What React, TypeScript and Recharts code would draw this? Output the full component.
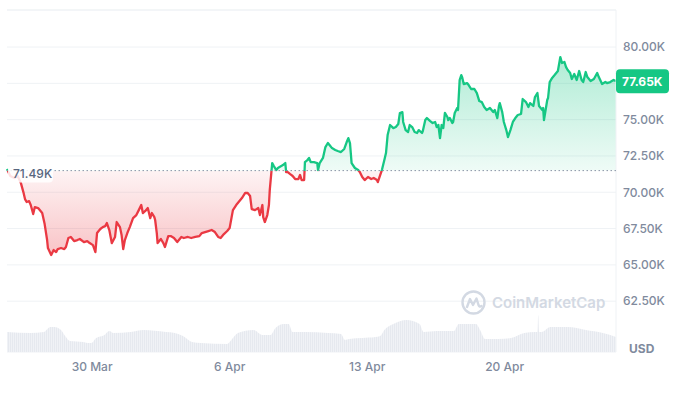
import React from "react";
import {
  ComposedChart,
  Area,
  XAxis,
  YAxis,
  CartesianGrid,
  ReferenceLine,
} from "recharts";

// hours since 25 Mar 16:00, hourly candles sampled where the line turns
const hours = [
  0, 4, 9, 13, 17, 20, 22, 24, 27, 29,
  32, 34, 38, 43, 46, 49, 50, 54, 57, 60,
  62, 66, 70, 72, 75, 78, 82, 86, 89, 94,
  98, 101, 105, 108, 110, 114, 117, 120, 122, 125,
  128, 132, 134, 138, 140, 142, 144, 147, 150, 154,
  158, 161, 164, 166, 169, 171, 172, 175, 177, 180,
  181, 183, 184, 188, 191, 193, 197, 200, 204, 208,
  213, 216, 221, 225, 230, 235, 238, 242, 246, 250,
  254, 258, 261, 265, 269, 272, 276, 280, 283, 287,
  291, 294, 297, 299, 303, 307, 309, 312, 313, 315,
  318, 320, 321, 323, 324, 326, 329, 331, 335, 337,
  340, 341, 343, 346, 349, 352, 356, 358, 360, 363,
  364, 367, 369, 371, 375, 379, 380, 382, 386, 389,
  392, 394, 397, 401, 404, 408, 412, 415, 417, 419,
  421, 425, 429, 431, 434, 437, 441, 445, 448, 452,
  453, 456, 458, 461, 463, 465, 468, 472, 475, 478,
  480, 483, 484, 487, 490, 492, 495, 498, 501, 503,
  507, 508, 511, 513, 517, 520, 523, 525, 527, 529,
  531, 533, 535, 538, 539, 541, 544, 545, 547, 550,
  551, 553, 555, 556, 558, 562, 564, 567, 571, 574,
  577, 580, 583, 586, 590, 594, 596, 599, 601, 602,
  605, 607, 610, 612, 615, 618, 621, 624, 628, 630,
  634, 637, 639, 643, 645, 648, 650, 654, 655, 656,
  660, 661, 663, 666, 669, 673, 676, 678, 681, 683,
  685, 688, 690, 693, 696, 699, 702, 704, 707, 709,
  713, 717, 721, 723, 727, 731, 733, 737, 741, 744,
];

const prices = [
  71600, 71120, 70980, 71120, 70630, 70010, 69530, 69330, 69390, 69120,
  68500, 68980, 68910, 68570, 67810, 66710, 66160, 65680, 66020, 65880,
  66090, 66160, 66090, 66230, 66850, 66920, 66640, 66710, 66780, 66570,
  66640, 66500, 66360, 65880, 67190, 67470, 67600, 67670, 67880, 67400,
  66500, 66920, 67950, 67600, 67050, 66090, 66710, 67190, 67600, 68220,
  68430, 68770, 69120, 68570, 68710, 68840, 68910, 68220, 68570, 68290,
  68090, 67190, 66500, 66780, 66500, 66230, 66980, 66980, 66850, 66570,
  66920, 66850, 66920, 66850, 66920, 66980, 67190, 67260, 67330, 67400,
  67260, 66920, 66850, 67120, 67330, 67540, 68770, 69120, 69330, 69600,
  69950, 69950, 69740, 68840, 68770, 68910, 68430, 69120, 68290, 67950,
  68430, 69120, 70150, 71390, 72010, 71800, 71530, 71670, 71800, 71870,
  72010, 71390, 71390, 71250, 71120, 70910, 70910, 71190, 70840, 70840,
  72080, 72220, 72360, 72080, 72080, 72010, 71530, 72010, 72360, 73110,
  73390, 73250, 73040, 72910, 72840, 72770, 72980, 73460, 73730, 73390,
  72010, 71670, 71530, 71390, 71050, 70840, 71050, 70910, 70980, 70840,
  70700, 71190, 71530, 72220, 72700, 73940, 74630, 74420, 74490, 74700,
  75460, 75520, 74840, 74280, 74150, 74630, 74490, 74150, 74080, 74280,
  74080, 74220, 74970, 75110, 74900, 74770, 74840, 74490, 74630, 73730,
  74630, 74420, 75460, 75180, 74970, 75110, 74770, 74840, 75460, 75800,
  75660, 77730, 78070, 77930, 77450, 77520, 77380, 77110, 77110, 76830,
  76280, 76210, 75870, 75660, 75800, 75520, 75660, 75110, 75940, 76140,
  75520, 74840, 74280, 73800, 74280, 74840, 75110, 75320, 75390, 76420,
  76210, 75870, 76140, 75940, 76560, 76830, 75940, 75660, 75800, 74970,
  76350, 76490, 77590, 77870, 78070, 78350, 79310, 78900, 78970, 78620,
  78420, 78210, 77800, 78140, 77730, 78350, 77730, 77590, 78280, 77930,
  77660, 77800, 78210, 77930, 77450, 77590, 77520, 77590, 77730, 77650,
];

// traded volume (B USD per hour, rough)
const volHours = [
  0, 29, 45, 53, 58, 66, 71, 77, 93, 98,
  103, 109, 119, 125, 130, 151, 167, 194, 205, 215,
  226, 237, 269, 274, 282, 301, 312, 322, 328, 338,
  344, 349, 365, 392, 408, 413, 418, 434, 450, 456,
  461, 472, 488, 504, 509, 525, 546, 552, 573, 578,
  584, 600, 616, 632, 645, 648, 649, 650, 653, 664,
  685, 707, 728, 744,
];
const volumes = [
  2.0, 1.9, 2.0, 2.5, 2.5, 2.2, 1.6, 1.1, 1.0, 0.9,
  0.9, 1.4, 1.7, 2.1, 1.9, 2.0, 2.2, 2.0, 1.9, 1.6,
  1.0, 0.9, 0.8, 1.2, 1.9, 2.2, 1.7, 1.7, 2.4, 2.8,
  2.8, 2.0, 2.0, 1.9, 1.8, 1.2, 1.3, 1.4, 1.5, 1.6,
  2.2, 2.8, 3.2, 2.8, 2.0, 2.1, 2.1, 2.8, 2.8, 2.2,
  1.3, 1.3, 1.4, 1.9, 2.0, 2.0, 3.7, 2.0, 2.0, 2.5,
  2.5, 2.2, 1.9, 1.5,
];

const dateTicks = [104, 272, 440, 608];
const dateLabels = ["30 Mar", "6 Apr", "13 Apr", "20 Apr"];
const priceTicks = [62500, 65000, 67500, 70000, 72500, 75000, 77500, 80000];
const openPrice = 71490;
const lastPrice = 77650;

const GREEN = "#16c784";
const RED = "#ea3943";
const GRID = "#eff2f5";
const TICK = "#808a9d";

type Row = { hour: number; price?: number; volume?: number };

const rowMap = new Map<number, Row>();
hours.forEach((h, i) => rowMap.set(h, { hour: h, price: prices[i] }));
volHours.forEach((h, i) => {
  const r = rowMap.get(h) ?? { hour: h };
  r.volume = volumes[i];
  rowMap.set(h, r);
});
const chartData = [...rowMap.values()].sort((a, b) => a.hour - b.hour);

const pMax = Math.max(...prices);
const pMin = Math.min(...prices);
const split = (pMax - openPrice) / (pMax - pMin);

const fmtK = (v: number) => `${(v / 1000).toFixed(2)}K`;

function OpenTag({ viewBox }: any) {
  if (!viewBox) return null;
  const x = viewBox.x + 1;
  const y = viewBox.y;
  return (
    <g>
      <rect x={x} y={y - 9} width={45} height={21} rx={4} fill="#fff" fillOpacity={0.85} />
      <text x={x + 5} y={y + 7} fill="#58667e" fontSize={12} fontWeight={500}>
        {fmtK(openPrice)}
      </text>
    </g>
  );
}

function LastTag({ viewBox }: any) {
  if (!viewBox) return null;
  const x = viewBox.x + viewBox.width;
  const y = viewBox.y;
  return (
    <g>
      <rect x={x} y={y - 12} width={53} height={24} rx={4} fill={GREEN} />
      <text x={x + 6} y={y + 4.5} fill="#fff" fontSize={12} fontWeight={700}>
        {fmtK(lastPrice)}
      </text>
    </g>
  );
}

export default function App() {
  return (
    <div
      style={{
        position: "absolute",
        left: 0,
        top: 0,
        width: 683,
        height: 395,
        background: "#fff",
        fontFamily: "Inter, sans-serif",
      }}
    >
      <ComposedChart
        width={683}
        height={395}
        data={chartData}
        margin={{ top: 10, right: 0, bottom: 13, left: 7 }}
      >
        <defs>
          <linearGradient id="lineStroke" x1="0" y1="0" x2="0" y2="1">
            <stop offset={split} stopColor={GREEN} />
            <stop offset={split} stopColor={RED} />
          </linearGradient>
          <linearGradient id="lineFill" x1="0" y1="0" x2="0" y2="1">
            <stop offset={0} stopColor={GREEN} stopOpacity={0.34} />
            <stop offset={split} stopColor={GREEN} stopOpacity={0.07} />
            <stop offset={split} stopColor={RED} stopOpacity={0.06} />
            <stop offset={1} stopColor={RED} stopOpacity={0.3} />
          </linearGradient>
          <pattern id="volStripes" width={2} height={4} patternUnits="userSpaceOnUse">
            <rect width={2} height={4} fill="#f0f2f6" />
            <rect width={1} height={4} fill="#e6e9ef" />
          </pattern>
        </defs>
        <CartesianGrid yAxisId="price" vertical={false} stroke={GRID} />
        <XAxis
          type="number"
          dataKey="hour"
          domain={[0, 744]}
          ticks={dateTicks}
          tickFormatter={(v: number) => dateLabels[dateTicks.indexOf(v)] ?? ""}
          axisLine={false}
          tickLine={false}
          tickMargin={4}
          height={30}
          tick={{ fill: TICK, fontSize: 12, fontWeight: 500 }}
        />
        <YAxis
          yAxisId="price"
          orientation="right"
          domain={[59000, 82550]}
          ticks={priceTicks}
          tickFormatter={(v: number) => (v === 77500 ? "" : fmtK(v))}
          axisLine={false}
          tickLine={false}
          tickMargin={1}
          width={67}
          tick={{ fill: TICK, fontSize: 12, fontWeight: 500 }}
          allowDataOverflow
        />
        <YAxis yAxisId="vol" hide domain={[0, 34.2]} />
        <ReferenceLine yAxisId="price" y={82550} stroke={GRID} />
        <ReferenceLine yAxisId="price" x={744} stroke={GRID} />
        <Area
          yAxisId="vol"
          dataKey="volume"
          type="monotone"
          connectNulls
          stroke="none"
          fill="url(#volStripes)"
          fillOpacity={1}
          dot={false}
          activeDot={false}
          isAnimationActive={false}
        />
        <ReferenceLine
          yAxisId="price"
          y={openPrice}
          stroke="#8a93a6"
          strokeDasharray="1.5 2.5"
        />
        <Area
          yAxisId="price"
          dataKey="price"
          type="linear"
          connectNulls
          baseValue={openPrice}
          stroke="url(#lineStroke)"
          strokeWidth={2.3}
          strokeLinejoin="round"
          fill="url(#lineFill)"
          fillOpacity={1}
          dot={false}
          activeDot={false}
          isAnimationActive={false}
        />
        <ReferenceLine
          yAxisId="price"
          y={openPrice}
          stroke="none"
          label={<OpenTag />}
        />
        <ReferenceLine
          yAxisId="price"
          y={lastPrice}
          stroke="none"
          label={<LastTag />}
        />
      </ComposedChart>
      <div
        style={{
          position: "absolute",
          left: 629,
          top: 342,
          fontSize: 12,
          lineHeight: "14px",
          fontWeight: 700,
          color: TICK,
        }}
      >
        USD
      </div>
      <div
        style={{
          position: "absolute",
          left: 461,
          top: 290,
          display: "flex",
          alignItems: "center",
          gap: 6,
          color: "#d3d9e3",
          fontSize: 15,
          fontWeight: 600,
          pointerEvents: "none",
        }}
      >
        <svg width={25} height={25} viewBox="0 0 25 25">
          <circle cx={12.5} cy={12.5} r={11} fill="none" stroke="#d3d9e3" strokeWidth={2.4} />
          <path
            d="M6 17 L9 9 L12 15 L15.5 8.5 L17.5 15 Q18.5 17.5 20.5 16"
            fill="none"
            stroke="#d3d9e3"
            strokeWidth={2.4}
            strokeLinecap="round"
            strokeLinejoin="round"
          />
        </svg>
        <span>CoinMarketCap</span>
      </div>
    </div>
  );
}
